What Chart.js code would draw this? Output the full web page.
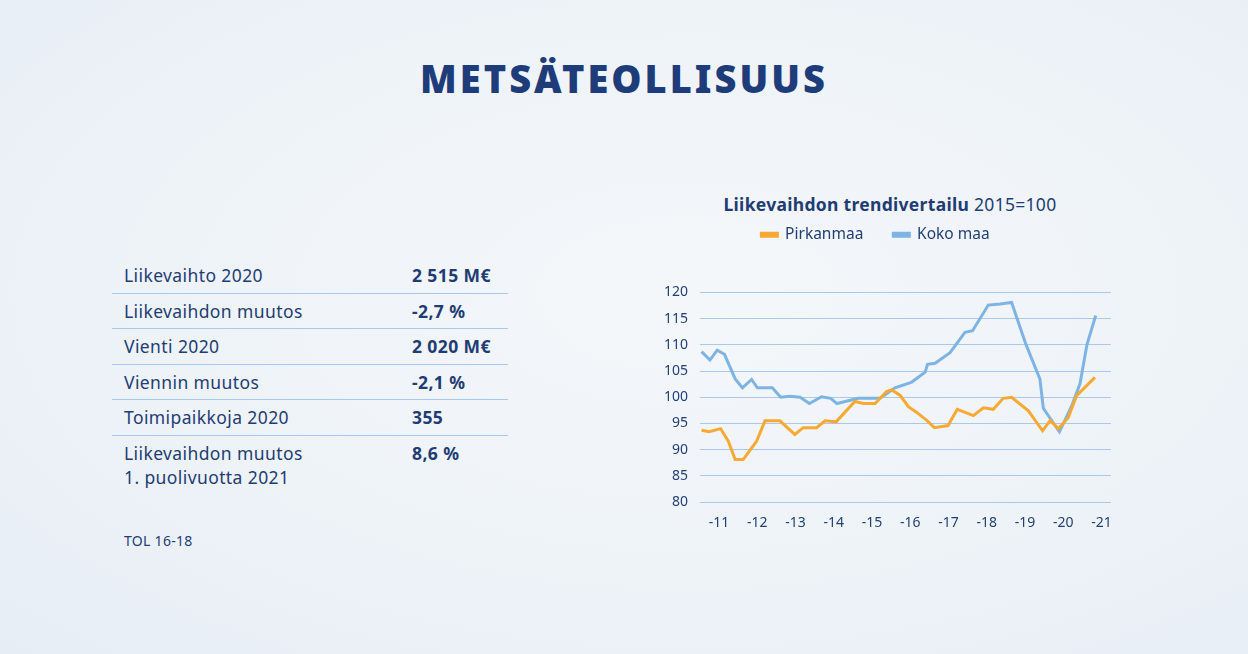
<!DOCTYPE html>
<html lang="fi">
<head>
<meta charset="utf-8">
<script src="https://cdn.jsdelivr.net/npm/chart.js@4.4.1/dist/chart.umd.min.js"></script>
<style>
  html, body { margin: 0; padding: 0; }
  body {
    width: 1248px; height: 654px; position: relative; overflow: hidden;
    font-family: "Noto Sans", sans-serif; color: #1f3d73;
    background: radial-gradient(ellipse at 55% 45%, #f4f7fa 0%, #eef3f8 55%, #e6edf4 100%);
  }
  h1 {
    position: absolute; left: 0; width: 1248px; top: 52px; margin: 0;
    text-align: center; font-size: 38px; font-weight: 900; letter-spacing: 3px;
    color: #1f3c7a;
  }
  .facts { position: absolute; left: 112px; top: 258px; width: 396px; }
  .row { display: flex; padding: 5px 0 5.5px 12px; border-bottom: 1px solid #a9c9e8; font-size: 17.5px; line-height: 24px; letter-spacing: 0.4px; }
  .row:last-child { border-bottom: none; }
  .row .k { width: 288px; }
  .row .v { font-weight: 700; }
  .tol { position: absolute; left: 124px; top: 531px; font-size: 14px; letter-spacing: 0.3px; }
  .ctitle { position: absolute; left: 640px; width: 500px; top: 192px; text-align: center; font-size: 17.5px; letter-spacing: 0.3px; }
  .ctitle b { font-weight: 700; }
  #chart { position: absolute; left: 640px; top: 197px; }
</style>
</head>
<body>
<h1>METSÄTEOLLISUUS</h1>

<div class="facts">
  <div class="row"><span class="k">Liikevaihto 2020</span><span class="v">2 515 M€</span></div>
  <div class="row"><span class="k">Liikevaihdon muutos</span><span class="v">-2,7 %</span></div>
  <div class="row"><span class="k">Vienti 2020</span><span class="v">2 020 M€</span></div>
  <div class="row"><span class="k">Viennin muutos</span><span class="v">-2,1 %</span></div>
  <div class="row"><span class="k">Toimipaikkoja 2020</span><span class="v">355</span></div>
  <div class="row"><span class="k">Liikevaihdon muutos<br>1. puolivuotta 2021</span><span class="v">8,6 %</span></div>
</div>
<div class="tol">TOL 16-18</div>

<div class="ctitle"><b>Liikevaihdon trendivertailu</b> 2015=100</div>
<canvas id="chart" width="490" height="341"></canvas>

<script>
// x-axis: one label per year, placed mid-year
const tickYears = [2011.5, 2012.5, 2013.5, 2014.5, 2015.5, 2016.5, 2017.5, 2018.5, 2019.5, 2020.5, 2021.5];
const tickLabels = ['-11', '-12', '-13', '-14', '-15', '-16', '-17', '-18', '-19', '-20', '-21'];

// Pirkanmaa trend (time in decimal years, value 2015=100)
const pirkTime = [2011.04, 2011.24, 2011.54, 2011.74, 2011.92, 2012.13, 2012.48, 2012.70, 2013.09, 2013.48,
  2013.70, 2014.05, 2014.27, 2014.56, 2015.05, 2015.27, 2015.58, 2015.88, 2016.01, 2016.23,
  2016.45, 2016.67, 2016.93, 2017.13, 2017.49, 2017.58, 2017.73, 2018.15, 2018.41, 2018.67,
  2018.93, 2019.15, 2019.59, 2019.96, 2020.16, 2020.37, 2020.63, 2020.85, 2021.33];
const pirkValues = [93.7, 93.4, 94.0, 91.6, 88.1, 88.1, 91.6, 95.5, 95.5, 92.9,
  94.2, 94.2, 95.5, 95.3, 99.2, 98.8, 98.8, 101.1, 101.4, 100.4,
  98.2, 97.1, 95.6, 94.2, 94.6, 95.8, 97.7, 96.5, 98.0, 97.7,
  99.8, 100.0, 97.4, 93.6, 95.6, 94.0, 96.1, 100.3, 103.8];

// Koko maa trend
const kokoTime = [2011.04, 2011.26, 2011.45, 2011.64, 2011.92, 2012.11, 2012.35, 2012.50, 2012.89, 2013.11,
  2013.35, 2013.62, 2013.86, 2014.18, 2014.42, 2014.58, 2015.14, 2015.71, 2016.10, 2016.54,
  2016.89, 2016.95, 2017.15, 2017.54, 2017.93, 2018.13, 2018.54, 2018.85, 2019.15, 2019.53,
  2019.89, 2019.98, 2020.40, 2020.72, 2020.94, 2021.12, 2021.35];
const kokoValues = [108.7, 107.1, 109.0, 108.2, 103.5, 101.8, 103.4, 101.8, 101.8, 100.0,
  100.2, 100.0, 98.8, 100.1, 99.8, 98.8, 99.8, 99.8, 101.8, 102.9,
  104.8, 106.3, 106.5, 108.5, 112.4, 112.7, 117.6, 117.8, 118.1, 110.0,
  103.5, 97.9, 93.4, 98.3, 102.6, 110.0, 115.6];

const navy = '#213f73';
const orange = '#f7a934';
const blue = '#7db4e3';

// extra space between legend and plot
const legendGap = {
  id: 'legendGap',
  beforeInit(chart) {
    const fit = chart.legend.fit;
    chart.legend.fit = function () {
      fit.bind(chart.legend)();
      this.height += 40;
    };
  }
};

new Chart(document.getElementById('chart'), {
  type: 'line',
  data: {
    datasets: [
      {
        label: 'Pirkanmaa',
        data: pirkTime.map((t, i) => ({ x: t, y: pirkValues[i] })),
        borderColor: orange,
        backgroundColor: orange,
        borderWidth: 3,
        pointRadius: 0,
        tension: 0,
      },
      {
        label: 'Koko maa',
        data: kokoTime.map((t, i) => ({ x: t, y: kokoValues[i] })),
        borderColor: blue,
        backgroundColor: blue,
        borderWidth: 3,
        pointRadius: 0,
        tension: 0,
      },
    ],
  },
  plugins: [legendGap],
  options: {
    responsive: false,
    animation: false,
    layout: { padding: { left: 0, right: 19, top: 0, bottom: 6 } },
    plugins: {
      legend: {
        position: 'top',
        labels: {
          boxWidth: 16,
          boxHeight: 3,
          padding: 30,
          color: navy,
          font: { family: 'Noto Sans', size: 15.5 },
        },
      },
      tooltip: { enabled: false },
    },
    scales: {
      x: {
        type: 'linear',
        min: 2011,
        max: 2021.75,
        afterBuildTicks: (scale) => { scale.ticks = tickYears.map(v => ({ value: v })); },
        grid: { display: false },
        border: { display: false },
        ticks: {
          color: navy,
          padding: 5,
          font: { family: 'Noto Sans', size: 14 },
          callback: (v, i) => tickLabels[i],
          maxRotation: 0,
        },
        afterFit: (s) => { s.height = 30; },
      },
      y: {
        min: 80,
        max: 120,
        grid: { color: '#a9c9e8', lineWidth: 1, drawTicks: false },
        border: { display: false },
        ticks: {
          stepSize: 5,
          color: navy,
          padding: 12,
          font: { family: 'Noto Sans', size: 14 },
        },
        afterFit: (s) => { s.width = 60; },
      },
    },
  },
});
</script>
</body>
</html>
